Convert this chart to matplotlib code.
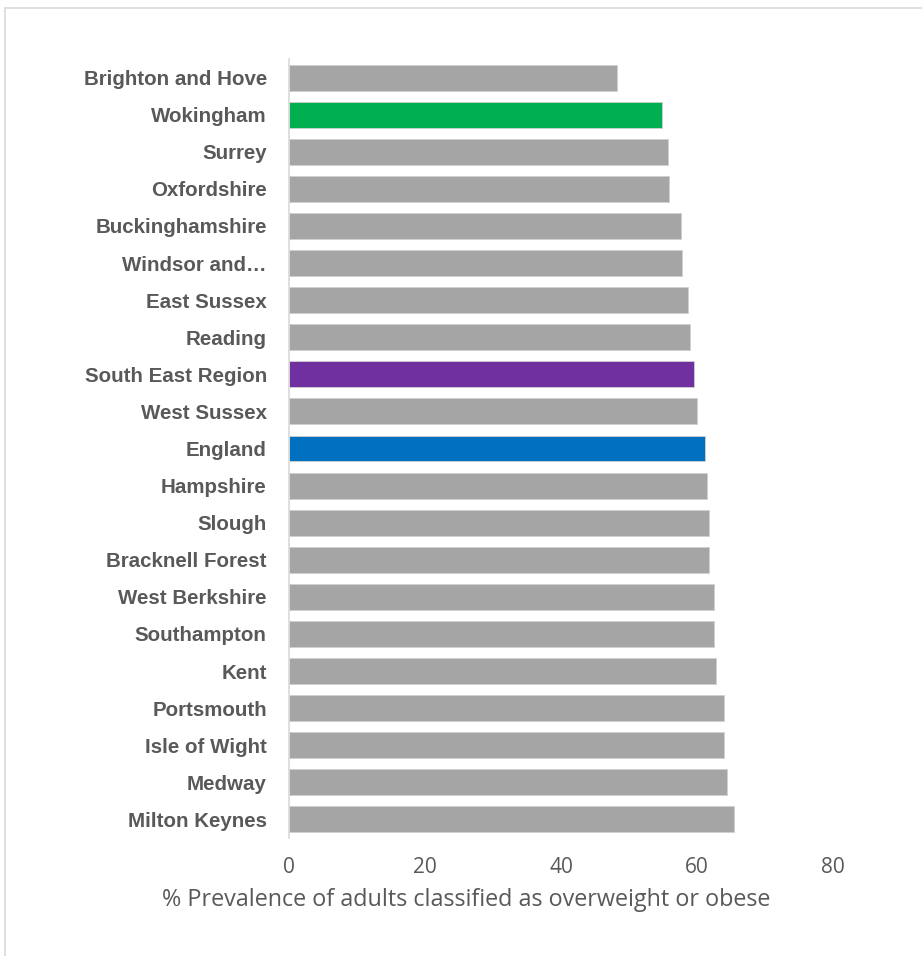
import matplotlib
matplotlib.use("Agg")
from matplotlib import pyplot as plt
from matplotlib.patches import Rectangle

areas = ["Brighton and Hove", "Wokingham", "Surrey", "Oxfordshire", "Buckinghamshire",
         "Windsor and\u2026", "East Sussex", "Reading", "South East Region", "West Sussex",
         "England", "Hampshire", "Slough", "Bracknell Forest", "West Berkshire",
         "Southampton", "Kent", "Portsmouth", "Isle of Wight", "Medway", "Milton Keynes"]
prevalence = [48.2, 54.9, 55.7, 55.9, 57.6, 57.8, 58.7, 59.0, 59.6, 60.0,
              61.2, 61.5, 61.8, 61.8, 62.5, 62.5, 62.8, 64.0, 64.0, 64.4, 65.4]
highlight = {"Wokingham": "#00B050", "South East Region": "#7030A0", "England": "#0070C0"}

colors = [highlight.get(a, "#A5A5A5") for a in areas]
text_col = "#595959"

plt.rcParams['font.family'] = ['Liberation Sans', 'DejaVu Sans']

fig = plt.figure(figsize=(9.22, 9.56), dpi=100)
ax = fig.add_axes([289/922, 1 - 838/956, (833 - 289)/922, (838 - 59)/956])

# outer chart frame (only top/left visible in the crop)
fig.patches.append(Rectangle((5/922, -0.1), 1.2, (956 - 8)/956 + 0.1,
                             transform=fig.transFigure, fill=False,
                             edgecolor="#D9D9D9", linewidth=1.2))

y = range(len(areas))
ax.barh(y, prevalence, height=0.7, color=colors, edgecolor="#D0D0D0", linewidth=0.6)

ax.set_xlim(0, 80)
ax.set_ylim(20.5, -0.5)
ax.set_xticks([0, 20, 40, 60, 80])
ax.set_yticks(list(y))
ax.set_yticklabels(areas, fontsize=14.8, fontweight="bold", color=text_col)
ax.tick_params(axis="y", length=0, pad=16)
ax.tick_params(axis="x", length=0, pad=14, labelcolor=text_col)
for lab in ax.get_xticklabels():
    lab.set_fontfamily("Open Sans")
    lab.set_fontsize(15)

for s in ["top", "right", "bottom"]:
    ax.spines[s].set_visible(False)
ax.spines["left"].set_color("#D9D9D9")
ax.spines["left"].set_linewidth(1.2)

fig.text(466/922, 1 - 900/956, "% Prevalence of adults classified as overweight or obese",
         fontsize=16.8, color=text_col, family="Open Sans", ha="center", va="center")

plt.savefig("out.png", dpi=100)
